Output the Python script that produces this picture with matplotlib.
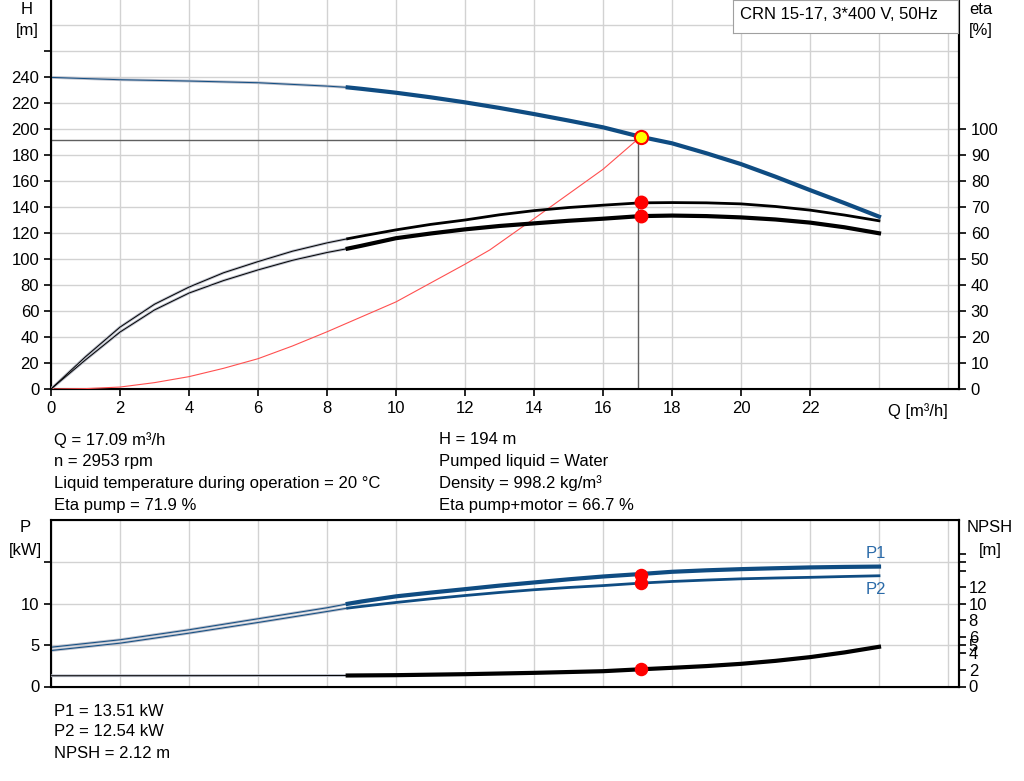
import numpy as np
import matplotlib
matplotlib.use("Agg")
from matplotlib import pyplot as plt

plt.rcParams['font.family'] = ['Liberation Sans', 'DejaVu Sans']
plt.rcParams['font.size'] = 12

# Pump curve data (Q in m3/h)
q_head = [0, 2, 4, 6, 8, 8.6, 9, 10, 11, 12, 13, 14, 15, 16, 17.09, 18, 19, 20, 21, 22, 23, 24]
head = [239.7, 237.9, 236.9, 235.6, 233, 232, 230.9, 227.9, 224.4, 220.5, 216.2, 211.5, 206.5,
        201.3, 194, 189, 181.3, 173, 163.3, 153, 143, 132.6]

q_eta = [0, 1, 2, 3, 4, 5, 6, 7, 8, 8.6, 9, 10, 11, 12, 13, 14, 15, 16, 17.09, 18, 19, 20, 21, 22, 23, 24]
eta_pump = [0, 12.4, 23.8, 32.6, 39.2, 44.7, 49.0, 53.0, 56.2, 57.8, 58.8, 61.2, 63.3, 65.0, 67.0,
            68.6, 69.8, 70.7, 71.6, 71.7, 71.6, 71.2, 70.2, 68.8, 66.9, 64.7]
eta_total = [0, 11.2, 21.9, 30.4, 36.9, 41.7, 45.8, 49.5, 52.5, 54.0, 55.1, 58.0, 59.8, 61.4, 62.7,
             63.7, 64.7, 65.5, 66.5, 66.7, 66.5, 66.0, 65.2, 64.0, 62.2, 59.9]

q_sys = [0, 1, 2, 3, 4, 5, 6, 7, 8, 10, 12, 12.72, 14, 16, 17.09]
h_sys = [0, 0.3, 1.5, 4.9, 9.5, 15.9, 23.3, 33.1, 44, 67, 96, 107, 131, 169, 194]

q_pow = [0, 2, 4, 6, 8, 8.6, 9, 10, 11, 12, 13, 14, 15, 16, 17.09, 18, 19, 20, 21, 22, 23, 24]
p1 = [4.75, 5.65, 6.86, 8.19, 9.52, 10.0, 10.28, 10.9, 11.35, 11.77, 12.2, 12.58, 12.96, 13.3,
      13.6, 13.87, 14.05, 14.19, 14.3, 14.4, 14.46, 14.5]
p2 = [4.35, 5.24, 6.45, 7.74, 9.07, 9.48, 9.68, 10.16, 10.6, 11.0, 11.37, 11.7, 11.97, 12.2,
      12.5, 12.7, 12.87, 13.02, 13.12, 13.2, 13.3, 13.39]

q_npsh = [0, 4, 8.6, 10, 12, 14, 16, 17.09, 18, 19, 20, 21, 22, 23, 24]
npsh = [1.3, 1.31, 1.33, 1.37, 1.49, 1.65, 1.85, 2.08, 2.26, 2.47, 2.74, 3.1, 3.55, 4.12, 4.8]

duty_q, duty_h = 17.09, 194
eta_p, eta_pm = 71.9, 66.7
duty_p1, duty_p2, duty_npsh = 13.51, 12.54, 2.12
q_split = 8.6  # thin part of curves below this flow

blue = '#0f4c82'
grid_c = '#d2d2d2'

info_left = ["Q = 17.09 m\u00b3/h", "n = 2953 rpm",
             "Liquid temperature during operation = 20 \u00b0C", "Eta pump = 71.9 %"]
info_right = ["H = 194 m", "Pumped liquid = Water",
              "Density = 998.2 kg/m\u00b3", "Eta pump+motor = 66.7 %"]
info_bottom = ["P1 = 13.51 kW", "P2 = 12.54 kW", "NPSH = 2.12 m"]


def split_plot(ax, x, y, color, lw_thick):
    x = np.array(x)
    y = np.array(y)
    lo = x <= q_split
    hi = x >= q_split
    ax.plot(x[lo], y[lo], color='#b8bcc8', lw=2.0, solid_capstyle='butt', zorder=3)
    ax.plot(x[lo], y[lo], color=color, lw=0.7, zorder=4)
    ax.plot(x[hi], y[hi], color=color, lw=lw_thick, zorder=4)


W, H = 1024, 781
fig = plt.figure(figsize=(W / 100, H / 100), dpi=100)
x0, x1 = 51, 959
fs = 12

# ---- top chart: head / efficiency
ax = fig.add_axes([x0 / W, (H - 389) / H, (x1 - x0) / W, 389 / H])
xmax = (x1 - x0) / 34.5
ax.set_xlim(0, xmax)
ax.set_ylim(0, 389 / 1.3)
ax.set_xticks(np.arange(0, 23, 2))
ax.set_xticks(np.arange(0, 27, 2), minor=True)
ax.set_yticks(np.arange(0, 261, 20))
ax.set_yticklabels([str(v) for v in range(0, 241, 20)] + [''])
ax.set_yticks(np.arange(0, 281, 20), minor=True)
ax.grid(which='both', color=grid_c, lw=1)
ax.set_axisbelow(True)
ax.tick_params(which='minor', length=0)
ax.tick_params(which='major', direction='out', length=5, width=1.2, labelsize=fs)
ax.spines['top'].set_visible(False)
for s in ['left', 'right', 'bottom']:
    ax.spines[s].set_linewidth(1.5)
ax.text(26.0, -0.035, "Q [m\u00b3/h]", transform=ax.get_xaxis_transform(),
        ha='right', va='top', fontsize=fs)

split_plot(ax, q_head, head, blue, 3)

ax2 = ax.twinx()
ax2.set_ylim(0, 389 / 1.3 / 2)
ax2.set_yticks(np.arange(0, 101, 10))
ax2.tick_params(direction='out', length=5, width=1.2, labelsize=fs)
ax2.spines['top'].set_visible(False)
ax2.spines['right'].set_linewidth(1.5)
split_plot(ax2, q_eta, eta_pump, 'black', 2)
split_plot(ax2, q_eta, eta_total, 'black', 3)
ax2.plot(q_sys, [v / 2 for v in h_sys], color='#ff5050', lw=0.8, zorder=3)

# duty point guide lines
ax.plot([0, duty_q - 0.08], [191.5, 191.5], color='#606060', lw=1, zorder=2)
ax.plot([duty_q - 0.08, duty_q - 0.08], [0, 191.5], color='#606060', lw=1, zorder=2)
ax2.plot([duty_q], [eta_p], 'o', color='red', ms=9, zorder=6)
ax2.plot([duty_q], [eta_pm], 'o', color='red', ms=9, zorder=6)
ax2.plot([duty_q], [duty_h / 2], 'o', mfc='#ffff00', mec='red', mew=1.5, ms=9.5, zorder=7)

fig.text(27 / W, 1 - 10 / H, "H", ha='center', va='center', fontsize=fs)
fig.text(27 / W, 1 - 30 / H, "[m]", ha='center', va='center', fontsize=fs)
fig.text(981 / W, 1 - 10 / H, "eta", ha='center', va='center', fontsize=fs)
fig.text(981 / W, 1 - 30 / H, "[%]", ha='center', va='center', fontsize=fs)

box = fig.add_axes([733 / W, (H - 33) / H, (958 - 733) / W, 33 / H])
box.set_xticks([])
box.set_yticks([])
for s in box.spines.values():
    s.set_color('#a0a0a0')
box.text(0.03, 0.55, "CRN 15-17, 3*400 V, 50Hz", transform=box.transAxes,
         ha='left', va='center', fontsize=fs)

# ---- info text
for i, t in enumerate(info_left):
    fig.text(54 / W, 1 - (440 + i * 21.7) / H, t, ha='left', va='center', fontsize=fs)
for i, t in enumerate(info_right):
    fig.text(439 / W, 1 - (440 + i * 21.7) / H, t, ha='left', va='center', fontsize=fs)

# ---- bottom chart: power / NPSH
bx = fig.add_axes([x0 / W, (H - 686.5) / H, (x1 - x0) / W, (686.5 - 520) / H])
bx.set_xlim(0, xmax)
bx.set_ylim(0, 166.5 / 8.27)
bx.set_xticks([])
bx.set_xticks(np.arange(0, 27, 2), minor=True)
bx.set_yticks([0, 5, 10, 15])
bx.set_yticklabels(['0', '5', '10', ''])
bx.grid(axis='y', color=grid_c, lw=1)
bx.grid(axis='x', which='minor', color=grid_c, lw=1)
bx.set_axisbelow(True)
bx.tick_params(which='minor', length=0)
bx.tick_params(direction='out', length=5, width=1.2, labelsize=fs)
for s in bx.spines.values():
    s.set_linewidth(1.5)
split_plot(bx, q_pow, p1, blue, 3)
split_plot(bx, q_pow, p2, blue, 2)
bx.plot([duty_q], [duty_p1], 'o', color='red', ms=8.7, zorder=6)
bx.plot([duty_q], [duty_p2], 'o', color='red', ms=8.7, zorder=6)
bx.text(24 - 0.1, 15.2, "P1", color='#2a6aa8', ha='center', va='bottom', fontsize=fs)
bx.text(24 - 0.1, 12.6, "P2", color='#2a6aa8', ha='center', va='top', fontsize=fs)

bx2 = bx.twinx()
bx2.set_ylim(0, 166.5 / 8.27)
bx2.set_yticks([0, 2, 4, 5, 6, 8, 10, 12, 14, 15, 16])
bx2.set_yticklabels(['0', '2', '4', '5', '6', '8', '10', '12', '', '', ''])
bx2.tick_params(direction='out', length=5, width=1.2, labelsize=fs, pad=2)
bx2.spines['right'].set_linewidth(1.5)
split_plot(bx2, q_npsh, npsh, 'black', 3)
bx2.plot([duty_q], [duty_npsh], 'o', color='red', ms=8.7, zorder=6)

fig.text(25 / W, 1 - 528 / H, "P", ha='center', va='center', fontsize=fs)
fig.text(25 / W, 1 - 550 / H, "[kW]", ha='center', va='center', fontsize=fs)
fig.text(990 / W, 1 - 528 / H, "NPSH", ha='center', va='center', fontsize=fs)
fig.text(990 / W, 1 - 550 / H, "[m]", ha='center', va='center', fontsize=fs)

for i, t in enumerate(info_bottom):
    fig.text(54 / W, 1 - (711 + i * 21) / H, t, ha='left', va='center', fontsize=fs)

fig.savefig("out.png", dpi=100)
